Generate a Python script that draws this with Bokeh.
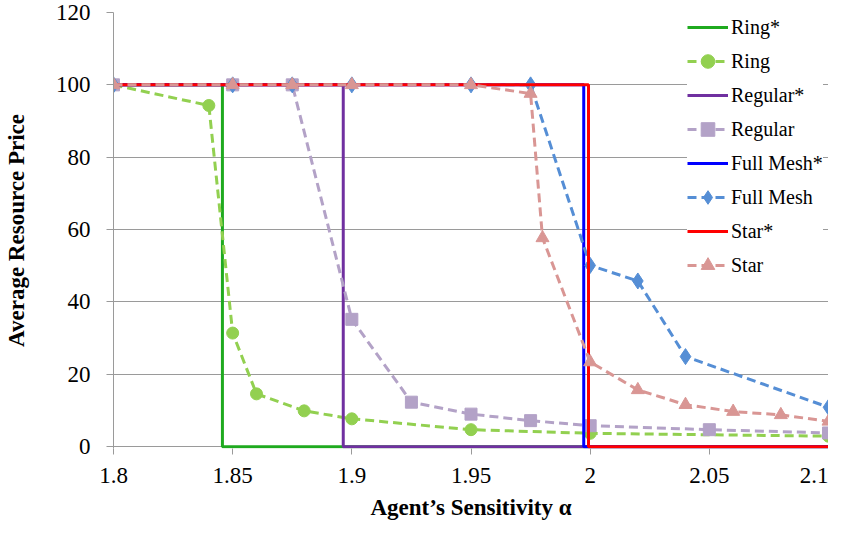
from bokeh.plotting import figure
from bokeh.models import Legend, LegendItem, FixedTicker, Range1d
from bokeh.embed import file_html
from bokeh.resources import INLINE

# ---------------- data ----------------
x_ticks = [1.8, 1.85, 1.9, 1.95, 2.0, 2.05, 2.1]
x_tick_labels = ["1.8", "1.85", "1.9", "1.95", "2", "2.05", "2.1"]
y_ticks = [0, 20, 40, 60, 80, 100, 120]

# theoretical (step) curves: price 100 below threshold, 0 above
ring_star_x = [1.8, 1.8457, 1.8457, 2.1]
ring_star_y = [100, 100, 0, 0]
regular_star_x = [1.8, 1.8964, 1.8964, 2.1]
regular_star_y = [100, 100, 0, 0]
mesh_star_x = [1.8, 1.9973, 1.9973, 2.1]
mesh_star_y = [100, 100, 0, 0]
star_star_x = [1.8, 1.9993, 1.9993, 2.1]
star_star_y = [100, 100, 0, 0]

# simulated curves
ring_x = [1.8, 1.84, 1.85, 1.86, 1.88, 1.9, 1.95, 2.0, 2.1]
ring_y = [100, 94.3, 31.4, 14.6, 9.9, 7.7, 4.7, 3.7, 2.9]
regular_x = [1.8, 1.85, 1.875, 1.9, 1.925, 1.95, 1.975, 2.0, 2.05, 2.1]
regular_y = [100, 100, 100, 35.2, 12.3, 9.0, 7.2, 5.8, 4.7, 3.8]
mesh_x = [1.8, 1.85, 1.875, 1.9, 1.95, 1.975, 2.0, 2.02, 2.04, 2.1]
mesh_y = [100, 100, 100, 100, 100, 100, 50.1, 45.8, 24.9, 10.9]
star_x = [1.8, 1.85, 1.875, 1.9, 1.95, 1.975, 1.98, 2.0, 2.02, 2.04, 2.06, 2.08, 2.1]
star_y = [100, 100, 100, 100, 100, 97.6, 57.7, 23.4, 15.7, 11.6, 9.7, 8.8, 7.0]

x_title = "Agent\u2019s Sensitivity \u03b1"
y_title = "Average Resource Price"

# ---------------- figure ----------------
SERIF = "Liberation Serif, Times New Roman, serif"
GRAY = "#9a9a9a"
p = figure(width=828, height=528, x_range=Range1d(1.8, 2.1), y_range=Range1d(-0.5, 120),
           output_backend="svg", toolbar_location=None,
           min_border_left=107, min_border_right=0, min_border_top=12, min_border_bottom=80)
p.outline_line_color = None
p.background_fill_color = "white"
p.border_fill_color = "white"
p.xgrid.visible = False
p.ygrid.grid_line_color = GRAY
p.ygrid.grid_line_width = 1
p.ygrid.ticker = FixedTicker(ticks=y_ticks)

p.xaxis.ticker = FixedTicker(ticks=x_ticks)
p.xaxis.major_label_overrides = {t: l for t, l in zip(x_ticks, x_tick_labels)}
p.yaxis.ticker = FixedTicker(ticks=y_ticks)
for ax in (p.xaxis, p.yaxis):
    ax.major_label_text_font = SERIF
    ax.major_label_text_font_size = "23px"
    ax.major_label_text_color = "black"
    ax.major_tick_line_color = GRAY
    ax.major_tick_in = 0
    ax.major_tick_out = 7
    ax.minor_tick_line_color = None
    ax.major_label_standoff = 16
    ax.axis_label_text_font = SERIF
    ax.axis_label_text_font_size = "23px"
    ax.axis_label_text_font_style = "bold"
    ax.axis_label_text_color = "black"
p.xaxis.axis_line_color = None
p.xaxis.major_tick_out = 6
p.xaxis.major_label_standoff = 13
p.xaxis.axis_label_standoff = 9
p.yaxis.axis_line_color = GRAY
p.xaxis.axis_label = x_title
p.yaxis.axis_label = y_title
p.yaxis.axis_label_standoff = 24

# colours
C_RING_S, C_RING = "#1faa1f", "#92d050"
C_REG_S, C_REG = "#7030a0", "#b3a2c7"
C_MESH_S, C_MESH = "#0000ff", "#558ed5"
C_STAR_S, C_STAR = "#ff0000", "#d99694"
DASH = "9 5"

items = []
r = p.line(ring_star_x, ring_star_y, color=C_RING_S, line_width=3)
items.append(LegendItem(label="Ring*", renderers=[r]))
r1 = p.line(ring_x, ring_y, color=C_RING, line_width=3, line_dash=DASH)
r2 = p.scatter(ring_x, ring_y, marker="circle", size=12, color=C_RING)
items.append(LegendItem(label="Ring", renderers=[r1, r2]))

r = p.line(regular_star_x, regular_star_y, color=C_REG_S, line_width=3)
items.append(LegendItem(label="Regular*", renderers=[r]))
r1 = p.line(regular_x, regular_y, color=C_REG, line_width=3, line_dash=DASH)
r2 = p.scatter(regular_x, regular_y, marker="square", size=12, color=C_REG)
items.append(LegendItem(label="Regular", renderers=[r1, r2]))

r = p.line(mesh_star_x, mesh_star_y, color=C_MESH_S, line_width=3)
items.append(LegendItem(label="Full Mesh*", renderers=[r]))
r1 = p.line(mesh_x, mesh_y, color=C_MESH, line_width=3, line_dash=DASH)
r2 = p.scatter(mesh_x, mesh_y, marker="diamond", size=16, color=C_MESH)
items.append(LegendItem(label="Full Mesh", renderers=[r1, r2]))

r = p.line(star_star_x, star_star_y, color=C_STAR_S, line_width=3)
items.append(LegendItem(label="Star*", renderers=[r]))
r1 = p.line(star_x, star_y, color=C_STAR, line_width=3, line_dash=DASH)
r2 = p.scatter(star_x, star_y, marker="triangle", size=13, color=C_STAR)
items.append(LegendItem(label="Star", renderers=[r1, r2]))

legend = Legend(items=items, location=(574, 166), orientation="vertical",
                label_text_font=SERIF, label_text_font_size="20px", label_text_color="black",
                glyph_width=41, glyph_height=34, label_height=34, label_standoff=3,
                spacing=0, padding=3, margin=0,
                background_fill_color="white", background_fill_alpha=1.0,
                border_line_color=None)
p.add_layout(legend, "center")

open("out.html", "w").write(file_html(p, INLINE))
